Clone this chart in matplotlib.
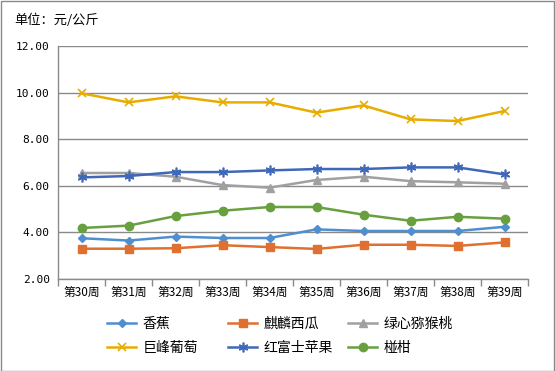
import matplotlib
matplotlib.use("Agg")
import matplotlib.pyplot as plt
from matplotlib.patches import Rectangle

plt.rcParams['font.family'] = ['Noto Sans CJK SC', 'DejaVu Sans']

weeks = ["第30周", "第31周", "第32周", "第33周", "第34周", "第35周", "第36周", "第37周", "第38周", "第39周"]
banana = [3.75, 3.65, 3.82, 3.76, 3.76, 4.13, 4.06, 4.06, 4.06, 4.24]
watermelon = [3.30, 3.30, 3.32, 3.45, 3.37, 3.29, 3.47, 3.47, 3.42, 3.57]
kiwi = [6.55, 6.55, 6.39, 6.03, 5.92, 6.25, 6.39, 6.20, 6.15, 6.09]
grape = [9.97, 9.58, 9.84, 9.58, 9.58, 9.14, 9.45, 8.85, 8.78, 9.21]
apple = [6.36, 6.42, 6.59, 6.59, 6.66, 6.72, 6.72, 6.79, 6.79, 6.49]
orange = [4.19, 4.29, 4.70, 4.93, 5.09, 5.09, 4.76, 4.50, 4.67, 4.59]
yticks = [2.0, 4.0, 6.0, 8.0, 10.0, 12.0]

W, H = 555, 371
fig = plt.figure(figsize=(W/100, H/100), dpi=100)
fig.patches.append(Rectangle((0.5/W, 0.5/H), 1-1.5/W, 1-1.5/H, transform=fig.transFigure,
                             fill=False, edgecolor='#8a8a8a', linewidth=1.0))
ax = fig.add_axes([58/W, 1-279/H, (528-58)/W, (279-46)/H])

x = list(range(len(weeks)))
lw = 1.8
series = [
    ("香蕉", banana, '#4F8FD0', 'D', 4.5),
    ("麒麟西瓜", watermelon, '#E07030', 's', 6),
    ("绿心猕猴桃", kiwi, '#A0A0A0', '^', 6),
    ("巨峰葡萄", grape, '#E8AC00', 'x', 6),
    ("红富士苹果", apple, '#4068B8', (6, 2, 0), 7),
    ("椪柑", orange, '#68A040', 'o', 6),
]
handles = {}
for name, vals, col, mk, ms in series:
    if mk == 'x' or mk == (6, 2, 0):
        h, = ax.plot(x, vals, color=col, lw=lw, marker=mk, ms=ms, mew=1.2,
                     mec=col, label=name, zorder=3)
    else:
        h, = ax.plot(x, vals, color=col, lw=lw, marker=mk, ms=ms, mfc=col, mec=col,
                     label=name, zorder=3)
    handles[name] = h

ax.set_xlim(-0.5, len(weeks) - 0.5)
ax.set_ylim(2, 12)
ax.set_yticks(yticks)
ax.set_yticklabels([f"{v:.2f}" for v in yticks], fontsize=8, family=['DejaVu Sans Mono'])
ax.set_xticks(x)
ax.set_xticklabels(weeks, fontsize=8.5)
ax.set_xticks([i - 0.5 for i in range(len(weeks) + 1)], minor=True)
ax.tick_params(axis='x', which='major', length=0, pad=5)
ax.tick_params(axis='x', which='minor', length=5, color='#8a8a8a', width=1)
ax.tick_params(axis='y', length=0, pad=6)
ax.yaxis.grid(True, color='#8a8a8a', lw=1)
ax.set_axisbelow(True)
for s in ['top', 'right']:
    ax.spines[s].set_visible(False)
for s in ['left', 'bottom']:
    ax.spines[s].set_color('#8a8a8a')
    ax.spines[s].set_linewidth(1)

fig.text(14/W, 1-20/H, "单位：元/公斤", fontsize=9.5, va='center', ha='left')

columns = [("香蕉", "巨峰葡萄"), ("麒麟西瓜", "红富士苹果"), ("绿心猕猴桃", "椪柑")]
col_x = [107, 228, 348]
for names, cx in zip(columns, col_x):
    leg = fig.legend([handles[n] for n in names], list(names), ncol=1, loc='center left',
                     bbox_to_anchor=(cx/W, 1-336/H), frameon=False, fontsize=10,
                     handlelength=2.1, handletextpad=0.45, labelspacing=0.7,
                     borderpad=0, borderaxespad=0)

fig.savefig("out.png", dpi=100)
